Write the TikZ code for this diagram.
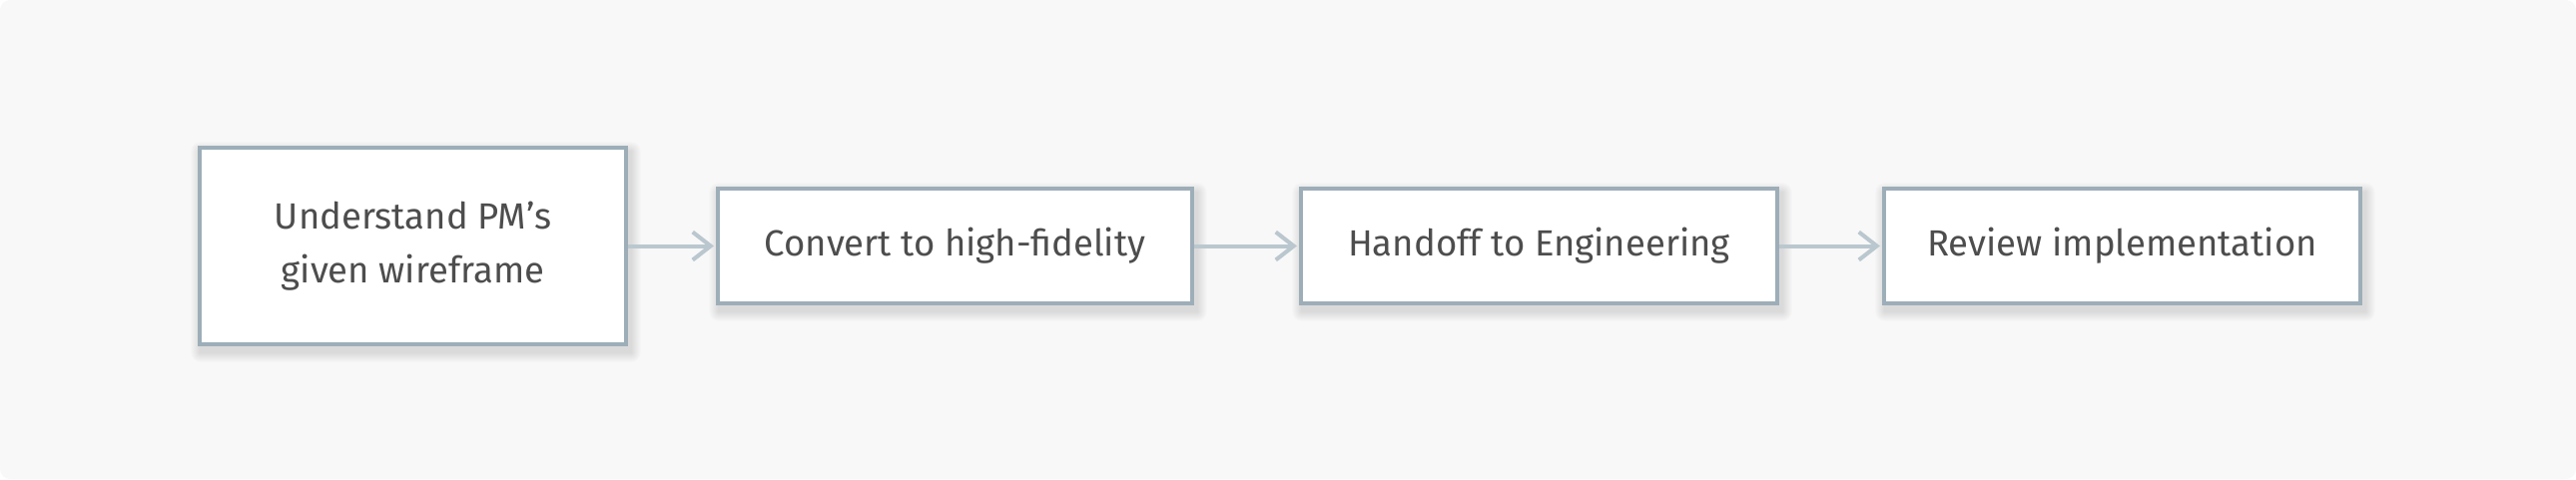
\documentclass[tikz,border=0pt]{standalone}
\usepackage{fontspec}
\setmainfont{Fira Sans}
\usetikzlibrary{arrows.meta}
\pgfdeclarelayer{canvas}
\pgfdeclarelayer{shade}
\pgfsetlayers{canvas,shade,main}
\definecolor{bgc}{HTML}{F8F8F8}
\definecolor{boxline}{HTML}{9DAEB8}
\definecolor{arrowc}{HTML}{BAC7CE}
\definecolor{txt}{HTML}{4D4D4D}
\tikzset{
  stepbox/.style={draw=boxline, line width=4pt, fill=white, inner sep=0pt,
    minimum height=115pt, align=center, text=txt,
    font=\fontsize{36.5pt}{54pt}\selectfont},
  flow/.style={draw=arrowc, line width=4pt, -{Straight Barb[length=18pt,width=28pt,line width=4pt]}, shorten >=2pt}
}
\newcommand{\softshadow}[1]{%
  \foreach \i in {1,...,10}{
    \fill[black, opacity=0.011, rounded corners=\i pt]
      ([xshift=3pt-\i pt, yshift=-6pt+\i pt]#1.north west) rectangle
      ([xshift=3pt+\i pt, yshift=-6pt-\i pt]#1.south east);
  }}
\begin{document}
\begin{tikzpicture}[x=1pt,y=-1pt]
\useasboundingbox (0,0) rectangle (2580,480);
\node[stepbox, minimum width=427pt, minimum height=197pt] (a) at (413.5,246.5) {Understand PM’s\\given wireframe};
\node[stepbox, minimum width=475pt] (b) at (956.5,246.5) {Convert to high-fidelity};
\node[stepbox, minimum width=477pt] (c) at (1541.5,246.5) {Handoff to Engineering};
\node[stepbox, minimum width=477pt] (d) at (2125.5,246.5) {Review implementation};
\draw[flow] (a) -- (b);
\draw[flow] (b) -- (c);
\draw[flow] (c) -- (d);
\begin{pgfonlayer}{shade}
\softshadow{a}\softshadow{b}\softshadow{c}\softshadow{d}
\end{pgfonlayer}
\begin{pgfonlayer}{canvas}
\fill[bgc, rounded corners=10pt] (0,0) rectangle (2580,480);
\end{pgfonlayer}
\end{tikzpicture}
\end{document}
